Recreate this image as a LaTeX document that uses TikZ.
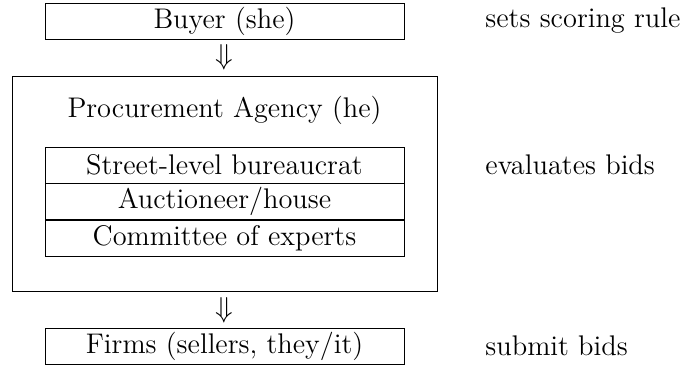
\documentclass[tikz,border=0pt]{standalone}
\usepackage{amsmath, amssymb}
\usepackage{tikz}
\usetikzlibrary{positioning}

\begin{document}
\begin{tikzpicture}[x=0.5pt,y=-0.5pt,node distance=0pt,
font=\fontsize{14.2}{17}\selectfont,
box/.style={draw,minimum width=179.5pt,minimum height=18pt,inner sep=0pt},
role/.style={anchor=west,inner sep=0pt}]
\useasboundingbox (0,0) rectangle (689,367);
\node[box] (buyer) at (224.5,21) {Buyer (she)};
\node (down1) at (224.5,57) {$\Downarrow$};
\node[draw,minimum width=212.5pt,minimum height=107.5pt] (agency) at (224.5,183.5) {};
\node (title) at (224.5,110) {Procurement Agency (he)};
\node[box] (slb) at (224.5,165) {Street-level bureaucrat};
\node[box] (auct) [below=of slb] {Auctioneer/house};
\node[box] (comm) [below=of auct] {Committee of experts};
\node (down2) at (224.5,310) {$\Downarrow$};
\node[box] (firms) at (224.5,346) {Firms (sellers, they/it)};
\node[role] (rule) at (485,21) {sets scoring rule};
\node[role] (eval) at (485,165) {evaluates bids};
\node[role] (bids) at (485,346) {submit bids};
\end{tikzpicture}
\end{document}
